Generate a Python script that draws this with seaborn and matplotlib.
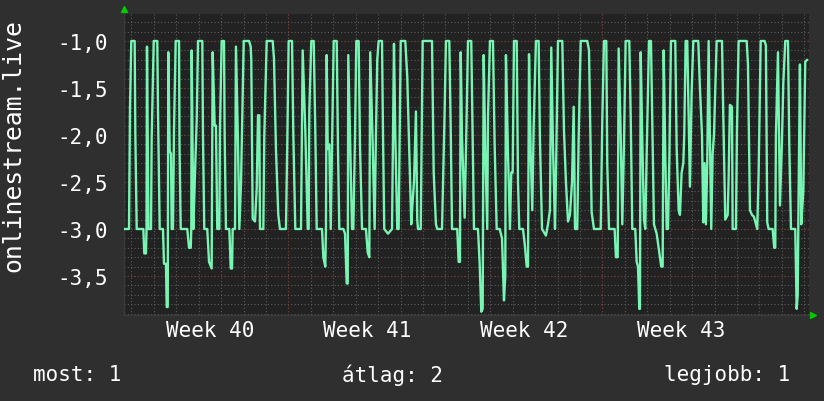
import numpy as np
import pandas as pd
import matplotlib
matplotlib.use("Agg")
import matplotlib.pyplot as plt
import matplotlib.transforms as mtransforms
from matplotlib.ticker import FixedLocator, FuncFormatter
import seaborn as sns

# hours since the left edge of the graph, and the measured value at that time
hours = [0.0, 5.35, 6.4, 7.8, 11.4, 12.1, 13.6, 20.7, 21.7, 23.5, 24.1, 24.6, 26.2, 28.9, 29.6, 31.8,
         35.6, 36.4, 38.2, 41.7, 42.8, 44.9, 45.7, 46.8, 47.4, 48.9, 50.3, 51.0, 52.4, 53.5, 55.3,
         58.9, 59.4, 60.7, 67.7, 69.6, 71.4, 72.0, 72.4, 74.2, 76.0, 77.8, 79.2, 83.8, 84.5, 85.9,
         89.1, 91.0,
         93.8, 94.9, 97.0, 98.4, 99.8, 102.0, 102.7, 104.5, 107.0, 107.7, 109.1, 112.7, 114.2, 115.6,
         116.3, 118.8, 119.8, 122.0, 123.4, 125.2, 128.1, 133.8, 135.6, 136.2, 137.7, 140.2, 142.0,
         143.4, 144.8, 145.5, 149.1, 150.1, 152.7, 159.1, 160.5, 162.6, 165.1, 166.9, 173.3, 174.7,
         176.2, 179.8, 181.2, 183.3,
         189.4, 191.2, 194.0, 196.6, 197.6, 198.3, 200.4, 203.0, 204.7, 206.2, 211.9, 213.3, 215.4,
         216.1, 216.9, 218.0, 219.7, 221.2, 222.6, 224.4, 227.6, 229.0, 230.4, 234.7, 236.5, 238.3,
         239.4, 240.0, 242.1, 244.0, 245.4, 247.2, 248.6, 251.1, 252.5, 254.7, 258.9, 260.8, 262.5,
         263.5, 266.1, 268.2, 269.6, 271.0, 272.5,
         276.1, 277.1, 278.5, 282.5, 286.8, 288.9, 290.3, 292.4, 293.9, 296.1, 301.0, 303.1, 305.3,
         307.4, 308.9, 310.3, 312.4, 313.8, 314.6, 317.5, 319.6, 329.6, 331.4, 333.8, 335.2, 340.3,
         343.1, 344.5, 348.1, 349.6, 351.0, 356.6, 358.1, 359.5, 360.3, 361.7, 364.5, 366.3,
         368.1, 371.6, 373.1, 374.5, 378.8, 380.6, 382.3, 383.8, 384.9, 386.6, 388.7, 389.5, 391.6,
         394.8, 396.6, 398.8, 402.0, 404.5, 406.6, 408.0, 408.7, 410.9, 413.0, 414.4, 415.9, 417.3,
         420.2, 421.6, 423.0, 426.9, 428.7, 430.9, 432.3, 433.4, 435.2, 436.9, 438.4, 440.8, 443.7,
         445.1, 447.3, 451.5, 453.7, 455.8, 457.2, 459.0,
         461.2, 462.2, 464.4, 469.0, 470.8, 472.9, 475.1, 477.2, 479.4, 481.2, 482.6, 485.0, 486.5,
         488.7, 495.7, 497.6, 500.4, 502.9, 510.1, 511.8, 513.6, 516.1, 517.1, 519.0, 525.0, 526.4,
         528.3, 529.3, 531.5, 533.2, 535.0, 536.8, 540.7, 542.2, 543.9, 547.1, 548.6, 550.0, 551.4,
         552.1, 552.9, 554.6, 556.4, 557.8, 559.3, 561.8, 563.9, 565.7, 567.1, 570.0, 572.8, 574.9,
         576.4, 577.5, 579.2, 580.7, 582.1, 583.5, 585.3, 589.9, 591.4, 593.5, 594.9, 596.7, 598.5,
         599.5, 601.0, 602.7, 604.2, 605.6, 607.4, 609.2, 614.5, 616.3, 618.5, 619.9, 621.3, 622.7,
         624.1, 625.6, 627.0, 628.4, 629.9, 631.3, 634.2, 639.9, 641.3, 643.4,
         646.0, 647.0, 648.4, 650.6, 651.3, 654.8, 655.9, 657.7, 666.3, 667.7, 669.8, 672.0, 674.1,
         676.2, 677.6, 679.1, 681.3, 685.5, 686.9, 688.3, 689.8, 694.1, 695.8, 696.9, 697.6, 699.8,
         701.9, 704.1, 705.5, 707.6, 710.5, 711.9, 713.7, 718.3, 719.8, 720.9, 722.0, 723.3, 724.7,
         726.9, 729.0, 731.1]
values = [-3.0, -3.0, -1.72, -1.0, -1.0, -1.97, -3.0, -3.0, -3.26, -3.26, -3.0, -1.06, -3.0, -3.0, -2.04, -1.0,
          -1.0, -1.75, -3.0, -3.0, -3.37, -3.37, -3.83, -3.83, -1.12, -2.17, -2.2, -3.0, -3.0, -1.95, -1.0,
          -1.0, -2.11, -3.0, -3.0, -3.2, -3.2, -3.0, -1.1, -3.0, -2.4, -1.85, -1.0, -1.0, -2.0, -3.0,
          -3.0, -3.35,
          -3.42, -1.12, -1.9, -1.9, -3.0, -3.0, -1.93, -1.0, -1.0, -2.0, -3.0, -3.0, -3.42, -3.42,
          -3.0, -3.0, -1.06, -2.1, -3.0, -2.52, -1.0, -1.0, -1.06, -1.2, -2.89, -2.92, -2.57,
          -1.79, -1.79, -3.0, -3.0, -2.02, -1.0, -1.0, -1.19, -2.15, -2.85, -3.0, -3.0, -2.1,
          -1.0, -1.0, -2.0, -3.0,
          -3.0, -1.1, -1.95, -3.0, -3.0, -1.75, -1.0, -1.0, -1.95, -3.0, -3.0, -3.3, -3.4,
          -3.0, -1.15, -2.15, -2.1, -3.0, -2.1, -1.0, -1.0, -2.16, -3.0, -3.0, -3.05, -3.58,
          -3.58, -1.15, -2.1, -3.0, -3.0, -2.0, -1.0, -1.0, -2.1, -3.0, -3.0, -3.25, -3.3,
          -1.12, -2.1, -3.0, -2.0, -1.2, -1.0,
          -1.0, -1.95, -3.0, -3.05, -3.0, -1.03, -2.0, -3.0, -3.0, -1.0, -1.0, -1.38, -2.2,
          -2.95, -2.7, -2.5, -1.75, -2.9, -3.0, -3.0, -1.0, -1.0, -2.4, -2.95, -3.0, -3.0,
          -1.75, -1.0, -1.0, -1.93, -3.0, -3.0, -3.35, -3.35, -1.12, -2.02, -2.88, -1.98,
          -1.0, -1.0, -2.0, -3.0, -3.0, -3.37, -3.88, -3.85, -1.15, -2.17, -3.0, -1.8, -1.0,
          -1.0, -2.1, -3.0, -3.0, -3.1, -3.76, -3.5, -1.15, -2.2, -3.0, -2.4, -2.4, -1.0,
          -1.0, -2.5, -3.0, -3.0, -3.15, -3.4, -3.4, -1.14, -2.2, -2.8, -1.9, -1.0, -1.0,
          -2.05, -3.0, -3.07, -2.95, -2.8, -1.07, -2.1,
          -3.0, -2.45, -1.0, -1.0, -1.95, -2.5, -2.92, -2.85, -2.5, -1.7, -3.0, -3.0, -2.05,
          -1.0, -1.0, -1.1, -2.82, -3.0, -3.0, -1.85, -1.0, -1.0, -2.3, -3.0, -3.0, -3.3,
          -3.3, -1.08, -2.0, -2.95, -2.1, -1.0, -1.0, -1.8, -3.0, -3.0, -3.35, -3.4, -3.85,
          -3.85, -1.12, -2.05, -2.9, -3.0, -2.2, -1.0, -1.0, -2.1, -2.95, -3.05, -3.25, -3.4,
          -3.4, -1.1, -2.2, -3.0, -3.0, -2.29, -1.0, -1.0, -2.15, -2.8, -2.85, -2.4, -2.3,
          -2.0, -1.0, -1.0, -1.8, -2.55, -1.55, -1.0, -1.0, -1.5, -2.0, -2.93, -2.3, -2.95,
          -2.3, -1.0, -2.05, -3.0, -2.2, -2.0, -1.0, -1.0, -1.8, -2.9,
          -2.85, -2.45, -1.68, -1.7, -3.0, -3.0, -1.95, -1.0, -1.0, -1.25, -2.8, -2.85, -2.87,
          -2.95, -3.0, -2.4, -1.0, -1.0, -1.05, -2.93, -3.0, -3.0, -3.2, -3.2, -2.0, -1.12,
          -2.75, -2.05, -1.45, -1.0, -1.0, -2.1, -3.0, -3.0, -3.85, -3.7, -2.5, -1.25, -2.95,
          -2.6, -1.22, -1.2]

day_lines = [8 + 24 * d for d in range(31)]
week_lines = [176, 344, 512, 680]
week_label_pos = [92, 260, 428, 596]
week_labels = ["Week 40", "Week 41", "Week 42", "Week 43"]
y_major = [-1.0, -1.5, -2.0, -2.5, -3.0, -3.5]
y_minor = [round(-0.8 - 0.1 * i, 1) for i in range(32)]

df = pd.DataFrame({"hour": hours, "value": values})

sns.set_theme(style="dark")
plt.rcParams["font.family"] = ["DejaVu Sans Mono"]

bg = "#2f2f2f"
plot_bg = "#222222"
grid_grey = "#5c5c5c"
grid_red = "#7a3434"

fig = plt.figure(figsize=(8.24, 4.02), dpi=100, facecolor=bg)
ax = fig.add_axes([124 / 824, 1 - 316 / 402, 685 / 824, 301 / 402])
ax.set_facecolor(plot_bg)

# minor grid
for h in day_lines:
    ax.axvline(h, color=grid_grey, lw=0.8, ls=(0, (1, 2)), zorder=1)
for v in y_minor:
    ax.axhline(v, color=grid_grey, lw=0.8, ls=(0, (1, 2)), zorder=1)
# major grid
for h in week_lines:
    ax.axvline(h, color=grid_red, lw=0.8, ls=(0, (1, 2)), zorder=1.5)
for v in y_major:
    ax.axhline(v, color=grid_red, lw=0.8, ls=(0, (1, 2)), zorder=1.5)

sns.lineplot(data=df, x="hour", y="value", ax=ax, color="#78f5b4", lw=1.7,
             estimator=None, sort=False, zorder=3)

ax.set_xlim(0, 733)
ax.set_ylim(-3.915, -0.713)

ax.set_yticks(y_major)
ax.yaxis.set_major_formatter(FuncFormatter(lambda v, p: f"{v:.1f}".replace(".", ",")))
ax.tick_params(axis="y", length=0, pad=11.5, labelsize=15, colors="white")

ax.xaxis.set_major_locator(FixedLocator(week_lines))
ax.xaxis.set_minor_locator(FixedLocator(day_lines))
ax.tick_params(axis="x", which="major", length=3, width=1, color=grid_red, labelbottom=False)
ax.tick_params(axis="x", which="minor", length=3, width=1, color="#555555")
ax.set_xlabel("")
ax.set_ylabel("")
ax.grid(False)

for s in ["top", "right"]:
    ax.spines[s].set_visible(False)
for s in ["left", "bottom"]:
    ax.spines[s].set_color("#3a3a3a")
    ax.spines[s].set_linewidth(1)

trans = mtransforms.blended_transform_factory(ax.transData, ax.transAxes)
for pos, lab in zip(week_label_pos, week_labels):
    ax.text(pos, -0.05, lab, transform=trans, ha="center", va="center",
            fontsize=15, color="white")

# arrows at the axis ends
ax.plot([0.0], [1.015], marker="^", color="#00cc00", ms=5, transform=ax.transAxes, clip_on=False)
ax.plot([1.006], [0.0], marker=">", color="#00cc00", ms=5, transform=ax.transAxes, clip_on=False)

fig.text(13 / 824, 1 - 146 / 402, "onlinestream.live", rotation=90, ha="center", va="center",
         fontsize=17.8, color="white")

fig.text(33 / 824, 1 - 375 / 402, "most: 1", ha="left", va="center", fontsize=15, color="white")
fig.text(393 / 824, 1 - 375 / 402, "átlag: 2", ha="center", va="center", fontsize=15, color="white")
fig.text(790 / 824, 1 - 375 / 402, "legjobb: 1", ha="right", va="center", fontsize=15, color="white")

fig.savefig("out.png", dpi=100, facecolor=bg)
